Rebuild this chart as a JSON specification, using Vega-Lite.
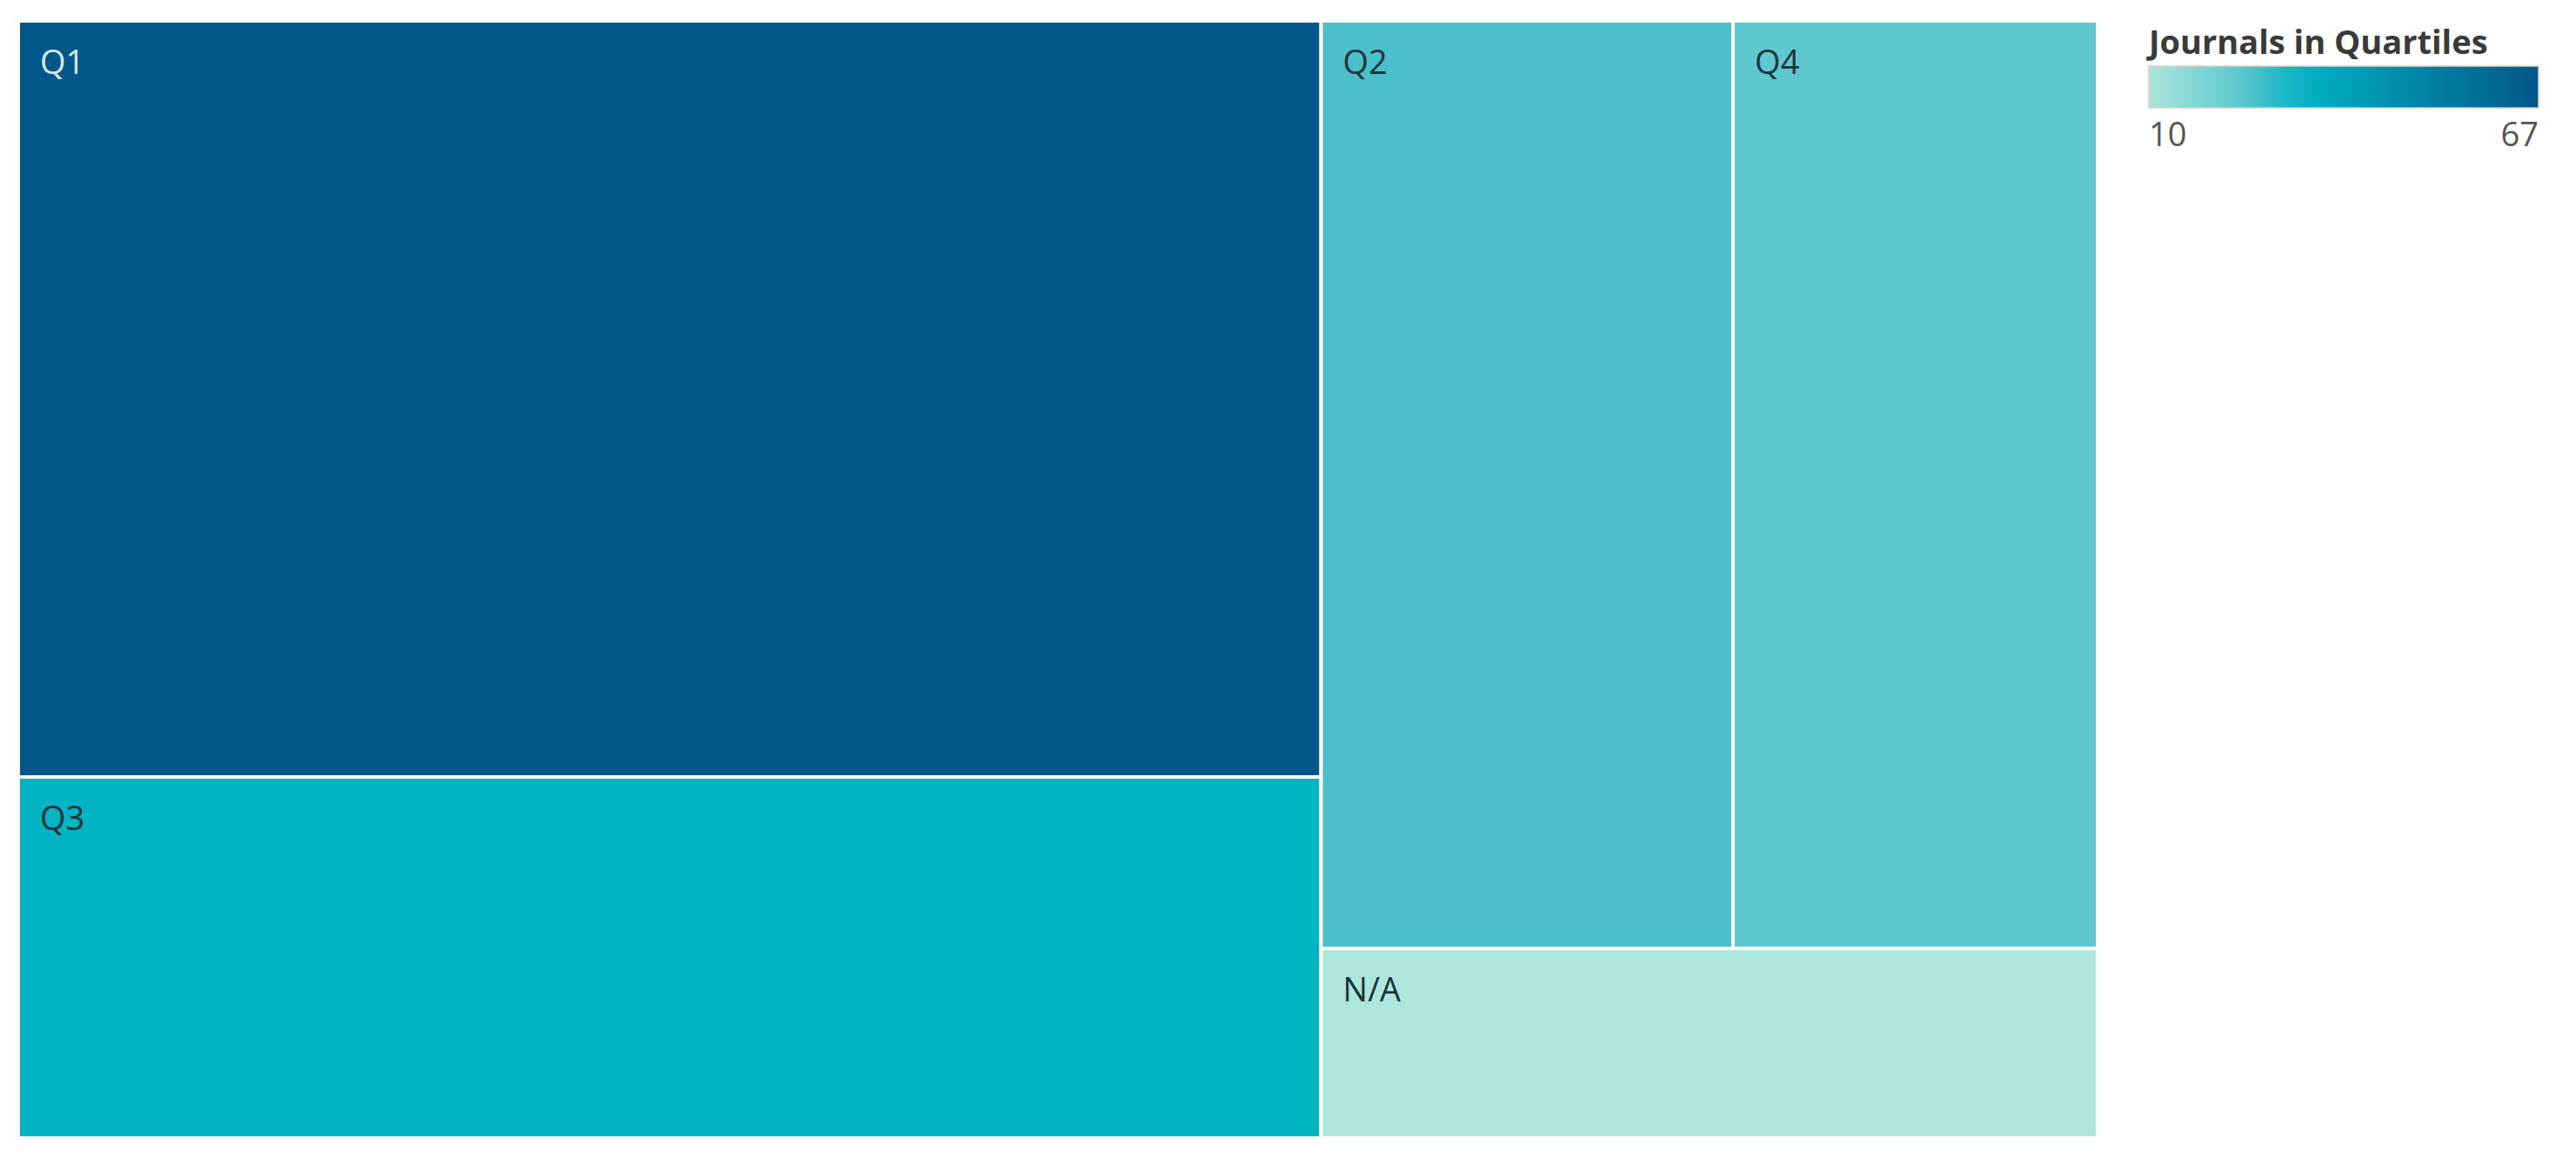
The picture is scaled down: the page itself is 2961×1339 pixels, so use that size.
{
  "$schema": "https://vega.github.io/schema/vega-lite/v6.json",
  "width": 2390,
  "height": 1284,
  "autosize": {"type": "none"},
  "padding": {"left": 21, "top": 24, "right": 550, "bottom": 31},
  "background": "white",
  "config": {"view": {"stroke": null}, "font": "Open Sans"},
  "data": {
    "values": [
      {"quartile": "Q1", "journals": 67, "col": "A", "row": 1},
      {"quartile": "Q3", "journals": 32, "col": "A", "row": 2},
      {"quartile": "Q2", "journals": 26, "col": "B", "row": 1},
      {"quartile": "Q4", "journals": 23, "col": "B", "row": 1},
      {"quartile": "N/A", "journals": 10, "col": "B", "row": 2}
    ]
  },
  "transform": [
    {"joinaggregate": [{"op": "sum", "field": "journals", "as": "colTotal"}], "groupby": ["col"]},
    {"joinaggregate": [{"op": "sum", "field": "journals", "as": "rowTotal"}], "groupby": ["col", "row"]},
    {"window": [{"op": "sum", "field": "journals", "as": "colEnd"}], "sort": [{"field": "col"}], "frame": [null, 0], "ignorePeers": false},
    {"window": [{"op": "sum", "field": "journals", "as": "rowEnd"}], "groupby": ["col"], "sort": [{"field": "row"}], "frame": [null, 0], "ignorePeers": false},
    {"window": [{"op": "sum", "field": "journals", "as": "cellEnd"}], "groupby": ["col", "row"], "sort": [{"field": "quartile"}], "frame": [null, 0], "ignorePeers": true},
    {"calculate": "datum.colEnd - datum.colTotal", "as": "x0"},
    {"calculate": "datum.x0 + datum.colTotal * (datum.cellEnd - datum.journals) / datum.rowTotal", "as": "cx0"},
    {"calculate": "datum.x0 + datum.colTotal * datum.cellEnd / datum.rowTotal", "as": "cx1"},
    {"calculate": "(datum.rowEnd - datum.rowTotal) / datum.colTotal", "as": "cy0"},
    {"calculate": "datum.rowEnd / datum.colTotal", "as": "cy1"}
  ],
  "layer": [
    {
      "mark": {"type": "rect", "stroke": "white", "strokeWidth": 4},
      "encoding": {
        "x": {"field": "cx0", "type": "quantitative", "axis": null, "scale": {"nice": false, "zero": true}},
        "x2": {"field": "cx1"},
        "y": {"field": "cy0", "type": "quantitative", "axis": null, "scale": {"nice": false, "zero": true, "reverse": true, "domain": [0, 1]}},
        "y2": {"field": "cy1"},
        "color": {
          "field": "journals",
          "type": "quantitative",
          "title": "Journals in Quartiles",
          "scale": {"domain": [10, 23, 26, 32, 67], "range": ["#ade6dc", "#5dc8cf", "#4bbfcb", "#00b4c4", "#02578a"], "interpolate": "rgb"},
          "legend": {
            "orient": "none",
            "legendX": 2449,
            "legendY": 8,
            "direction": "horizontal",
            "gradientLength": 448,
            "gradientThickness": 48,
            "gradientStrokeColor": "#d9d3c4",
            "gradientStrokeWidth": 1.5,
            "values": [10, 67],
            "titleFont": "Open Sans",
            "titleFontSize": 38,
            "titleFontWeight": "bold",
            "titleColor": "#3a3a3a",
            "titleLimit": 0,
            "titlePadding": 6,
            "labelFont": "Open Sans",
            "labelFontSize": 38,
            "labelColor": "#555555",
            "labelOffset": 14
          }
        }
      }
    },
    {
      "mark": {"type": "text", "align": "left", "baseline": "top", "dx": 25, "dy": 31, "fontSize": 38, "font": "Open Sans"},
      "encoding": {
        "x": {"field": "cx0", "type": "quantitative"},
        "y": {"field": "cy0", "type": "quantitative"},
        "text": {"field": "quartile"},
        "color": {"condition": {"test": "datum.journals > 50", "value": "#dbe5ec"}, "value": "#1e3337"}
      }
    }
  ]
}
